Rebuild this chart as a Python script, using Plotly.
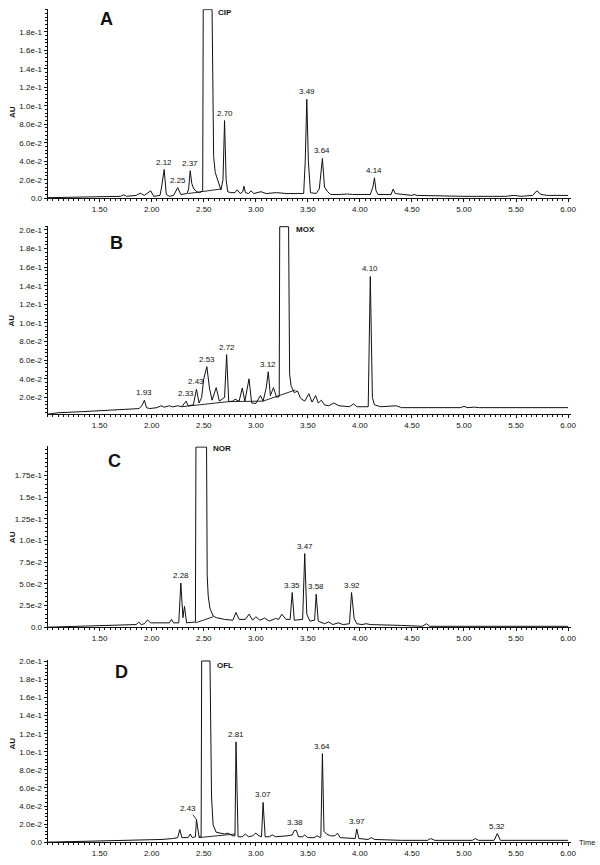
import plotly.graph_objects as go

# ---- panel A (CIP) trace: retention time (min) vs absorbance (AU)
A_t = [1.00, 1.20, 1.50, 1.70, 1.73, 1.76, 1.85, 1.89, 1.93, 1.99, 2.02, 2.08, 2.095, 2.12, 2.14, 2.17,
       2.21, 2.25, 2.28, 2.34, 2.355, 2.37, 2.385, 2.40, 2.43, 2.46, 2.49, 2.495, 2.58, 2.595, 2.61,
       2.64, 2.665, 2.685, 2.70, 2.715, 2.73, 2.76, 2.80, 2.822, 2.85, 2.875, 2.886, 2.90, 2.93, 2.956,
       2.98, 3.05, 3.10, 3.20, 3.30, 3.40, 3.46, 3.475, 3.49, 3.505, 3.525, 3.58, 3.61, 3.64, 3.66, 3.69,
       3.72, 3.80, 3.88, 3.93, 4.10, 4.125, 4.14, 4.155, 4.175, 4.30, 4.32, 4.34, 4.40, 4.50, 4.52, 4.55,
       5.00, 5.40, 5.48, 5.55, 5.66, 5.70, 5.74, 5.80, 6.00]
A_au = [0.0005, 0.001, 0.0018, 0.002, 0.0036, 0.002, 0.003, 0.0054, 0.003, 0.008, 0.002, 0.003, 0.012, 0.031, 0.004, 0.002,
        0.003, 0.0114, 0.004, 0.005, 0.010, 0.0297, 0.016, 0.011, 0.007, 0.006, 0.008, 0.204, 0.204, 0.045, 0.028,
        0.017, 0.009, 0.020, 0.084, 0.020, 0.007, 0.006, 0.006, 0.009, 0.005, 0.007, 0.013, 0.006, 0.005, 0.008,
        0.005, 0.007, 0.005, 0.006, 0.005, 0.005, 0.005, 0.040, 0.107, 0.040, 0.006, 0.005, 0.010, 0.043, 0.012, 0.007,
        0.004, 0.004, 0.0045, 0.004, 0.004, 0.012, 0.022, 0.008, 0.004, 0.004, 0.010, 0.005, 0.004, 0.003, 0.004, 0.003,
        0.002, 0.002, 0.003, 0.002, 0.003, 0.008, 0.004, 0.003, 0.003]
A_base_t = [2.35, 2.67]
A_base_au = [0.005, 0.010]
A_pk = ["2.12", "2.25", "2.37", "2.70", "3.49", "3.64", "4.14"]
A_pk_t = [2.12, 2.25, 2.37, 2.70, 3.49, 3.64, 4.14]
A_pk_au = [0.031, 0.0114, 0.0297, 0.084, 0.107, 0.043, 0.022]

# ---- panel B (MOX)
B_t = [1.00, 1.10, 1.30, 1.50, 1.70, 1.80, 1.88, 1.91, 1.93, 1.95, 1.98, 2.05, 2.09, 2.12, 2.17, 2.20,
       2.25, 2.29, 2.33, 2.35, 2.40, 2.43, 2.455, 2.48, 2.50, 2.53, 2.555, 2.58, 2.62, 2.65, 2.70, 2.72,
       2.74, 2.78, 2.80, 2.84, 2.87, 2.895, 2.935, 2.96, 3.00, 3.045, 3.07, 3.10, 3.12, 3.14, 3.17, 3.20,
       3.225, 3.23, 3.315, 3.325, 3.34, 3.37, 3.40, 3.43, 3.47, 3.51, 3.54, 3.575, 3.60, 3.63, 3.66, 3.70,
       3.75, 3.80, 3.90, 3.94, 3.97, 4.08, 4.10, 4.12, 4.14, 4.20, 4.35, 4.40, 4.97, 5.00, 5.03, 5.10,
       5.15, 6.00]
B_au = [0.002, 0.0035, 0.0045, 0.0057, 0.0068, 0.0075, 0.008, 0.012, 0.017, 0.009, 0.008, 0.009, 0.011, 0.0095, 0.011, 0.0098,
        0.011, 0.010, 0.016, 0.011, 0.012, 0.0288, 0.014, 0.020, 0.040, 0.053, 0.030, 0.017, 0.0305, 0.016, 0.020, 0.066,
        0.0155, 0.016, 0.018, 0.016, 0.030, 0.016, 0.040, 0.014, 0.0135, 0.022, 0.016, 0.030, 0.0476, 0.022, 0.0305, 0.020,
        0.021, 0.2035, 0.2035, 0.045, 0.032, 0.025, 0.027, 0.019, 0.016, 0.024, 0.015, 0.022, 0.014, 0.017, 0.012, 0.011,
        0.014, 0.011, 0.010, 0.013, 0.010, 0.010, 0.150, 0.020, 0.012, 0.010, 0.011, 0.009, 0.009, 0.0105, 0.009, 0.0095,
        0.009, 0.009]
B_base_t = [2.29, 2.74, 3.07, 3.38]
B_base_au = [0.010, 0.0155, 0.016, 0.028]
B_pk = ["1.93", "2.33", "2.43", "2.53", "2.72", "3.12", "4.10"]
B_pk_t = [1.93, 2.33, 2.43, 2.53, 2.72, 3.12, 4.10]
B_pk_au = [0.017, 0.016, 0.0288, 0.053, 0.066, 0.0476, 0.150]

# ---- panel C (NOR)
C_t = [1.00, 1.30, 1.50, 1.80, 1.85, 1.876, 1.90, 1.93, 1.96, 1.99, 2.10, 2.17, 2.19, 2.21, 2.26, 2.28,
       2.30, 2.315, 2.335, 2.42, 2.425, 2.527, 2.533, 2.543, 2.559, 2.59, 2.62, 2.70, 2.78, 2.81, 2.84,
       2.90, 2.935, 2.97, 3.00, 3.04, 3.085, 3.13, 3.19, 3.22, 3.25, 3.29, 3.33, 3.35, 3.37, 3.45, 3.47,
       3.49, 3.52, 3.565, 3.58, 3.60, 3.66, 3.70, 3.74, 3.79, 3.84, 3.90, 3.92, 3.945, 3.97, 4.02, 4.06,
       4.10, 4.40, 4.60, 4.64, 4.67, 5.00, 6.00]
C_au = [0.0, 0.001, 0.002, 0.003, 0.003, 0.0057, 0.003, 0.004, 0.0084, 0.005, 0.0045, 0.005, 0.009, 0.005, 0.005, 0.051,
        0.011, 0.024, 0.005, 0.006, 0.208, 0.208, 0.060, 0.036, 0.022, 0.013, 0.011, 0.009, 0.008, 0.017, 0.009,
        0.009, 0.015, 0.008, 0.012, 0.008, 0.0105, 0.007, 0.010, 0.009, 0.015, 0.009, 0.009, 0.040, 0.008, 0.009, 0.085,
        0.015, 0.007, 0.008, 0.038, 0.007, 0.004, 0.006, 0.003, 0.005, 0.003, 0.004, 0.040, 0.010, 0.004, 0.003, 0.004,
        0.003, 0.002, 0.001, 0.004, 0.001, 0.001, 0.001]
C_base_t = [2.42, 2.59]
C_base_au = [0.005, 0.012]
C_pk = ["2.28", "3.35", "3.47", "3.58", "3.92"]
C_pk_t = [2.28, 3.35, 3.47, 3.58, 3.92]
C_pk_au = [0.051, 0.040, 0.085, 0.038, 0.040]

# ---- panel D (OFL)
D_t = [1.00, 1.50, 2.00, 2.10, 2.20, 2.25, 2.27, 2.29, 2.35, 2.37, 2.39, 2.42, 2.43, 2.455, 2.475, 2.48,
       2.56, 2.575, 2.59, 2.62, 2.70, 2.73, 2.78, 2.80, 2.81, 2.83, 2.87, 2.90, 2.93, 2.97, 3.00, 3.03,
       3.055, 3.07, 3.09, 3.13, 3.16, 3.19, 3.30, 3.35, 3.37, 3.39, 3.41, 3.45, 3.47, 3.50, 3.56, 3.59,
       3.62, 3.625, 3.64, 3.655, 3.68, 3.72, 3.76, 3.785, 3.81, 3.90, 3.955, 3.97, 3.99, 4.08, 4.11, 4.14,
       4.40, 4.65, 4.68, 4.72, 5.08, 5.11, 5.14, 5.29, 5.32, 5.35, 5.50, 6.00]
D_au = [0.0, 0.001, 0.002, 0.003, 0.004, 0.005, 0.014, 0.005, 0.005, 0.009, 0.005, 0.006, 0.025, 0.006, 0.006, 0.2005,
        0.2005, 0.050, 0.019, 0.011, 0.009, 0.010, 0.007, 0.007, 0.111, 0.006, 0.006, 0.009, 0.006, 0.007, 0.010, 0.007,
        0.006, 0.044, 0.006, 0.006, 0.008, 0.006, 0.007, 0.008, 0.013, 0.013, 0.006, 0.006, 0.008, 0.005, 0.005, 0.007,
        0.005, 0.006, 0.098, 0.012, 0.009, 0.007, 0.007, 0.010, 0.005, 0.004, 0.004, 0.0146, 0.004, 0.003, 0.005, 0.003,
        0.002, 0.002, 0.004, 0.002, 0.002, 0.004, 0.002, 0.002, 0.0095, 0.002, 0.002, 0.002]
D_base_t = [2.45, 2.80]
D_base_au = [0.005, 0.009]
D_pk = ["2.81", "3.07", "3.38", "3.64", "3.97", "5.32"]
D_pk_t = [2.81, 3.07, 3.38, 3.64, 3.97, 5.32]
D_pk_au = [0.111, 0.044, 0.013, 0.098, 0.0146, 0.0095]

x_ticks = [1.5, 2.0, 2.5, 3.0, 3.5, 4.0, 4.5, 5.0, 5.5, 6.0]
x_text = ["1.50", "2.00", "2.50", "3.00", "3.50", "4.00", "4.50", "5.00", "5.50", "6.00"]

y_ticks_20 = [0.0, 0.02, 0.04, 0.06, 0.08, 0.10, 0.12, 0.14, 0.16, 0.18, 0.20]
y_text_20 = ["0.0", "2.0e-2", "4.0e-2", "6.0e-2", "8.0e-2", "1.0e-1", "1.2e-1", "1.4e-1", "1.6e-1", "1.8e-1", "2.0e-1"]
y_ticks_25 = [0.0, 0.025, 0.05, 0.075, 0.10, 0.125, 0.15, 0.175]
y_text_25 = ["0.0", "2.5e-2", "5.0e-2", "7.5e-2", "1.0e-1", "1.25e-1", "1.5e-1", "1.75e-1"]

W, H = 600, 865
X0, X1 = 48, 576
FONT = "Liberation Sans, Arial, sans-serif"

panels = [
    dict(t=A_t, au=A_au, bt=A_base_t, bau=A_base_au, pk=A_pk, pkt=A_pk_t, pka=A_pk_au,
         bottom=197, yr=[0, 0.2045], scale=933, yt=y_ticks_20[:10], ytt=y_text_20[:10], minor=0.004,
         letter="A", lpos=(1.57, 0.194), drug="CIP", dpos=(2.615, 0.2005)),
    dict(t=B_t, au=B_au, bt=B_base_t, bau=B_base_au, pk=B_pk, pkt=B_pk_t, pka=B_pk_au,
         bottom=415, yr=[0.002, 0.2045], scale=939, yt=y_ticks_20[1:], ytt=y_text_20[1:], minor=0.004,
         letter="B", lpos=(1.66, 0.186), drug="MOX", dpos=(3.37, 0.200)),
    dict(t=C_t, au=C_au, bt=C_base_t, bau=C_base_au, pk=C_pk, pkt=C_pk_t, pka=C_pk_au,
         bottom=630, yr=[0, 0.209], scale=874, yt=y_ticks_25, ytt=y_text_25, minor=0.005,
         letter="C", lpos=(1.64, 0.192), drug="NOR", dpos=(2.57, 0.2065)),
    dict(t=D_t, au=D_au, bt=D_base_t, bau=D_base_au, pk=D_pk, pkt=D_pk_t, pka=D_pk_au,
         bottom=847, yr=[0, 0.2015], scale=912, yt=y_ticks_20, ytt=y_text_20, minor=0.004,
         letter="D", lpos=(1.71, 0.188), drug="OFL", dpos=(2.61, 0.1955)),
]

fig = go.Figure()
annotations = []
layout = {}

for i, p in enumerate(panels):
    n = "" if i == 0 else str(i + 1)
    xa, ya = "x" + n, "y" + n
    top = p["bottom"] - (p["yr"][1] - p["yr"][0]) * p["scale"]

    fig.add_trace(go.Scatter(x=p["t"], y=p["au"], mode="lines", xaxis=xa, yaxis=ya,
                             line=dict(color="#111", width=1), showlegend=False, hoverinfo="x+y"))
    fig.add_trace(go.Scatter(x=p["bt"], y=p["bau"], mode="lines", xaxis=xa, yaxis=ya,
                             line=dict(color="#111", width=0.9), showlegend=False, hoverinfo="skip"))

    layout["xaxis" + n] = dict(
        domain=[X0 / W, X1 / W], range=[1.0, 6.03], anchor=ya,
        showline=True, linecolor="#111", linewidth=1, showgrid=False, zeroline=False,
        tickvals=x_ticks, ticktext=x_text, ticks="outside", ticklen=3, tickcolor="#111",
        tickfont=dict(family=FONT, size=8, color="#111"),
        minor=dict(dtick=0.05, tick0=1.0, ticks="outside", ticklen=2, tickcolor="#111"),
    )
    layout["yaxis" + n] = dict(
        domain=[1 - p["bottom"] / H, 1 - top / H], range=p["yr"], anchor=xa,
        showline=True, linecolor="#111", linewidth=1, showgrid=False, zeroline=False,
        tickvals=p["yt"], ticktext=p["ytt"], ticks="outside", ticklen=3, tickcolor="#111",
        tickfont=dict(family=FONT, size=8, color="#111"),
        minor=dict(dtick=p["minor"], tick0=0, ticks="outside", ticklen=2, tickcolor="#111"),
    )

    for lab, tx, ty in zip(p["pk"], p["pkt"], p["pka"]):
        annotations.append(dict(x=tx, y=ty, xref=xa, yref=ya, text=lab, showarrow=False,
                                xanchor="center", yanchor="bottom", yshift=1,
                                font=dict(family=FONT, size=8, color="#111")))

    annotations.append(dict(x=p["lpos"][0], y=p["lpos"][1], xref=xa, yref=ya, text="<b>%s</b>" % p["letter"],
                            showarrow=False, xanchor="center", yanchor="middle",
                            font=dict(family=FONT, size=18, color="#111")))
    annotations.append(dict(x=p["dpos"][0], y=p["dpos"][1], xref=xa, yref=ya, text="<b>%s</b>" % p["drug"],
                            showarrow=False, xanchor="left", yanchor="middle",
                            font=dict(family=FONT, size=8, color="#111")))
    annotations.append(dict(x=6 / W, y=1 - (p["bottom"] + top) / 2 / H, xref="paper", yref="paper",
                            text="<b>AU</b>", textangle=-90, showarrow=False,
                            font=dict(family=FONT, size=8, color="#111")))

# 2.43 in panel D has a leader line
annotations.append(dict(x=2.43, y=0.025, xref="x4", yref="y4", text="2.43", showarrow=True,
                        arrowhead=0, arrowwidth=0.8, arrowcolor="#111", ax=-8, ay=-11,
                        font=dict(family=FONT, size=8, color="#111")))
annotations.append(dict(x=582 / W, y=1 - 847 / H, xref="paper", yref="paper", text="Time",
                        showarrow=False, xanchor="left", yanchor="middle",
                        font=dict(family=FONT, size=7.5, color="#111")))

fig.update_layout(
    width=W, height=H,
    margin=dict(l=0, r=0, t=0, b=0),
    paper_bgcolor="white", plot_bgcolor="white",
    annotations=annotations,
    **layout
)

# page body has a default 8px margin; drop it so the figure sits at the window's corner
fig.write_html("out.html", config={"displayModeBar": False},
               post_script="document.body.style.margin='0';document.body.style.overflow='hidden';")
